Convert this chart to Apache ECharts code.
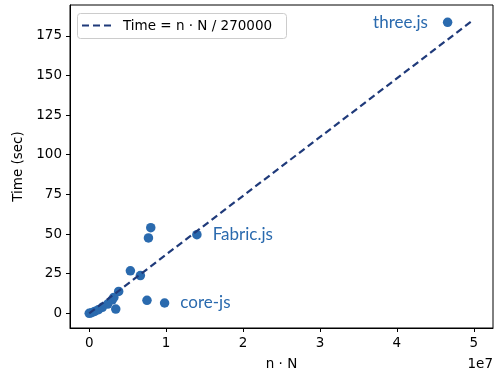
<!DOCTYPE html>
<html><head><meta charset="utf-8">
<script src="https://cdn.jsdelivr.net/npm/echarts@6/dist/echarts.min.js"></script>
<style>html,body{margin:0;padding:0;background:#fff}#c{width:497px;height:376px}</style>
</head><body><div id="c"></div>
<script>
// x values in units of 1e7 (n · N), y in seconds
const nN   = [4.66, 0.80, 0.77, 1.40, 0.535, 0.665, 0.383, 0.751, 0.98, 0.345, 0.32, 0.30, 0.24, 0.17, 0.12, 0.07, 0.03, 0.0];
const time = [183.5, 54.0, 47.5, 49.6, 26.8, 23.8, 13.8, 8.2, 6.5, 2.7, 10.0, 8.5, 5.8, 3.8, 2.3, 1.2, 0.4, 0.0];
const names = ['three.js', '', '', 'Fabric.js', '', '', '', '', 'core-js', '', '', '', '', '', '', '', '', ''];
const labelPos = {'three.js': 'left', 'Fabric.js': 'right', 'core-js': 'right'};
const lineX = [0, 5];
const divisor = 270000;
const legendText = 'Time = n · N / 270000';
const xTicks = [0, 1, 2, 3, 4, 5];
const yTicks = [0, 25, 50, 75, 100, 125, 150, 175];

const lineData = lineX.map(x => [x, x * 1e7 / divisor]);
const ptColor = '#2a6aae';
const lineColor = '#1f3a7a';
const pts = nN.map((x, i) => {
  const d = {value: [x, time[i]], name: names[i]};
  if (names[i]) {
    d.label = {show: true, formatter: names[i], position: labelPos[names[i]], distance: labelPos[names[i]] === 'left' ? 15 : 11,
      color: ptColor, fontFamily: 'Lato', fontSize: 17};
  }
  return d;
});

const chart = echarts.init(document.getElementById('c'), null, {renderer: 'canvas'});
const font = 'DejaVu Sans';
const fs = 13.5;
chart.setOption({
  animation: false,
  backgroundColor: '#fff',
  grid: {left: 70, right: 4, top: 5, bottom: 46, show: true, borderColor: '#000', borderWidth: 1, backgroundColor: '#fff'},
  xAxis: {
    type: 'value', min: -0.25, max: 5.25,
    name: 'n · N', nameLocation: 'middle', nameGap: 29,
    nameTextStyle: {fontFamily: font, fontSize: fs, color: '#000'},
    axisLine: {show: true, onZero: false, lineStyle: {color: '#000', width: 1}},
    axisTick: {show: true, inside: false, length: 4, customValues: xTicks, lineStyle: {color: '#000'}},
    axisLabel: {customValues: xTicks, margin: 8, fontFamily: font, fontSize: fs, color: '#000'},
    splitLine: {show: false}
  },
  yAxis: {
    type: 'value', min: -9.26, max: 194.4,
    name: 'Time (sec)', nameLocation: 'middle', nameGap: 45, nameRotate: 90,
    nameTextStyle: {fontFamily: font, fontSize: fs, color: '#000'},
    axisLine: {show: true, onZero: false, lineStyle: {color: '#000', width: 1}},
    axisTick: {show: true, inside: false, length: 4, customValues: yTicks, lineStyle: {color: '#000'}},
    axisLabel: {customValues: yTicks, margin: 8, fontFamily: font, fontSize: fs, color: '#000'},
    splitLine: {show: false}
  },
  graphic: [
    {type: 'text', right: 4, top: 357, style: {text: '1e7', font: fs + 'px "DejaVu Sans"', fill: '#000'}},
    {type: 'rect', shape: {x: 77.5, y: 13.5, width: 209, height: 25, r: 3}, style: {fill: '#fff', stroke: '#cccccc', lineWidth: 1}, z: 100},
    {type: 'line', shape: {x1: 82, y1: 25.5, x2: 112, y2: 25.5}, style: {stroke: lineColor, lineWidth: 2.2, lineDash: [7, 4]}, z: 101},
    {type: 'text', x: 123, y: 26, style: {text: legendText, font: fs + 'px "DejaVu Sans"', fill: '#000', textVerticalAlign: 'middle'}, z: 101}
  ],
  series: [
    {
      name: legendText, type: 'line', data: lineData, symbol: 'none',
      lineStyle: {color: lineColor, width: 2.2, type: [7, 4]}, z: 3
    },
    {
      name: 'points', type: 'scatter', data: pts, symbolSize: 9.5,
      itemStyle: {color: ptColor, opacity: 1}, z: 2
    }
  ]
});
</script></body></html>
